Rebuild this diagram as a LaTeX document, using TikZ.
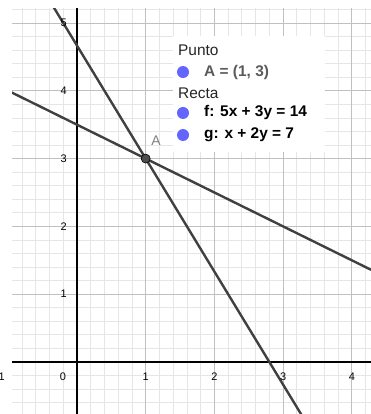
\documentclass[tikz,border=0pt]{standalone}
\usepackage{fontspec}
\setmainfont{Liberation Sans}
\definecolor{gridminor}{HTML}{E6E6E6}
\definecolor{gridmajor}{HTML}{C0C0C0}
\definecolor{rectagray}{HTML}{404040}
\definecolor{puntoblue}{HTML}{6464FF}
\definecolor{puntogray}{HTML}{4D4D4D}
\definecolor{labelgray}{HTML}{5A5A5A}

\begin{document}
\begin{tikzpicture}[x=68.7bp,y=67.8bp,
  recta/.style={line width=2.4bp,rectagray},
  numlabel/.style={inner sep=0pt,font=\fontsize{11}{13}\selectfont},
  legtext/.style={anchor=west,inner sep=0pt,font=\fontsize{15.5}{18}\selectfont},
  legdot/.style={circle,fill=puntoblue,minimum size=12bp,inner sep=0pt}]
  \useasboundingbox (-1.1208,-0.7670) rectangle (4.2795,5.3392);

  \begin{scope}
    \clip (-0.946,-0.767) rectangle (4.2795,5.221);
    %grid
    \draw[gridminor,line width=0.8bp,step=0.2] (-1.2,-1) grid (4.4,5.4);
    \draw[gridmajor,line width=0.9bp,step=1] (-1.2,-1) grid (4.4,5.4);

    %axes
    \draw[line width=1.1bp] (-1.2,0) -- (4.4,0);
    \draw[line width=1.1bp] (0,-1) -- (0,5.4);

    %rectas f y g
    \draw[recta] (-1,6.3333) -- (4.5,-2.8333);
    \draw[recta] (-1.2,4.1) -- (4.5,1.25);
  \end{scope}

  %numbers
  \foreach \n in {1,...,5}
    \node[numlabel,anchor=east] (y\n) at (-0.146,\n) {\n};
  \node[numlabel] (x0) at (-0.204,-0.221) {0};
  \foreach \n in {1,...,4}
    \node[numlabel] (x\n) at (\n,-0.221) {\n};
  \node[numlabel,anchor=east] (xm1) at (-1.048,-0.221) {−1};

  %point A
  \node[circle,fill=puntogray,draw=black,line width=0.6bp,minimum size=9bp,inner sep=0pt] (A) at (1,3) {};
  \node[inner sep=0pt,text=gray,font=\fontsize{14}{16}\selectfont] (labA) at (1.150,3.26) {A};

  %legend
  \fill[white] (1.397,3.097) rectangle (3.610,4.808);
  \node[legtext,text=black!85] (punto) at (1.470,4.602) {Punto};
  \node[legdot] (dA) at (1.543,4.277) {};
  \node[legtext,text=labelgray] (tA) at (1.849,4.277) {\textbf{A = (1, 3)}};
  \node[legtext,text=black!85] (recta) at (1.470,3.968) {Recta};
  \node[legdot] (df) at (1.543,3.673) {};
  \node[legtext] (tf) at (1.849,3.673) {\textbf{f: 5x + 3y = 14}};
  \node[legdot] (dg) at (1.543,3.348) {};
  \node[legtext] (tg) at (1.849,3.348) {\textbf{g: x + 2y = 7}};
\end{tikzpicture}
\end{document}
